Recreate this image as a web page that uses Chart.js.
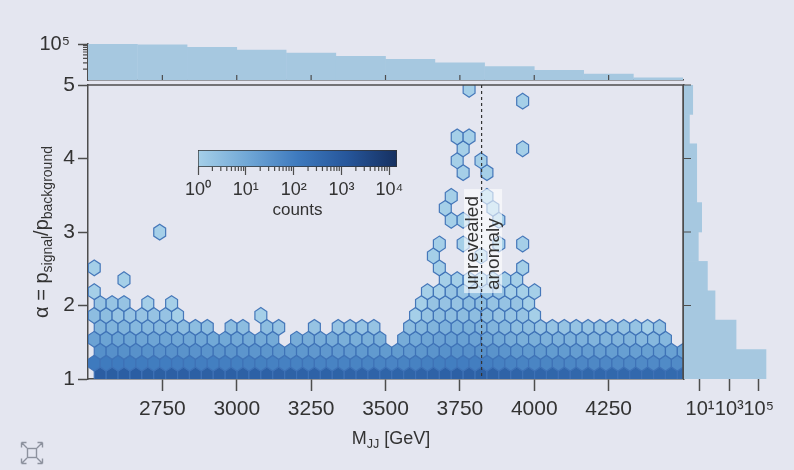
<!DOCTYPE html>
<html>
<head>
<meta charset="utf-8">
<script src="https://cdn.jsdelivr.net/npm/chart.js@4.4.0/dist/chart.umd.min.js"></script>
<style>
  html, body { margin: 0; padding: 0; background: #e4e6f0; }
  #wrap { position: relative; width: 794px; height: 470px; overflow: hidden;
          font-family: "Liberation Sans", Arial, sans-serif; color: #333; }
  #wrap canvas { position: absolute; }
  .label { position: absolute; white-space: nowrap; line-height: 1; }
  .label sub { font-size: 0.7em; vertical-align: -0.32em; line-height: 0; }
  #yTitle { left: 41px; top: 232px; font-size: 20px; transform: translate(-50%, -50%) rotate(-90deg); }
  #xTitle { left: 391px; top: 438px; font-size: 18px; transform: translate(-50%, -50%); }
  #expandIcon { position: absolute; left: 19px; top: 440px; }
</style>
</head>
<body>
<div id="wrap">
  <canvas id="mainChart" width="794" height="470" style="left:0;top:0"></canvas>
  <canvas id="topHist" width="794" height="100" style="left:0;top:0"></canvas>
  <canvas id="rightHist" width="194" height="470" style="left:600px;top:0"></canvas>
  <canvas id="colorBar" width="260" height="91" style="left:170px;top:130px"></canvas>
  <div id="yTitle" class="label">α = p<sub>signal</sub>/p<sub>background</sub></div>
  <div id="xTitle" class="label">M<sub>JJ</sub> [GeV]</div>
  <svg id="expandIcon" width="26" height="26" viewBox="0 0 26 26" fill="none" stroke="#8d929e" stroke-width="1.4">
    <rect x="8.5" y="8.5" width="9" height="9"/>
    <path d="M8 8 L2.5 2.5 M2.5 2.5 h5 M2.5 2.5 v5 M18 8 L23.5 2.5 M23.5 2.5 h-5 M23.5 2.5 v5 M8 18 L2.5 23.5 M2.5 23.5 h5 M2.5 23.5 v-5 M18 18 L23.5 23.5 M23.5 23.5 h-5 M23.5 23.5 v-5"/>
  </svg>
</div>
<script>
// Global font settings:
Chart.defaults.font.family = '"Liberation Sans", Arial, sans-serif';
Chart.defaults.color = '#333';
Chart.defaults.animation = false;

const COLORS = {
  AXIS: '#4d4d4d',
  HIST: 'rgb(166, 200, 224)',
  HEX_EDGE: 'rgba(62, 114, 182, 0.95)',
  BOX: 'rgba(255, 255, 255, 0.6)'
};
// light-to-dark blue map used for the hex counts and the colour bar
const CMAP = [[165, 207, 232], [112, 167, 214], [62, 122, 190], [38, 86, 155], [22, 48, 96]];

// ---- data ----
const mjjTicks = [2750, 3000, 3250, 3500, 3750, 4000, 4250];
const alphaTicks = [1, 2, 3, 4, 5];

// top marginal: events per M_JJ bin
const mjjBinCentres = [2583, 2750, 2917, 3083, 3250, 3417, 3583, 3750, 3917, 4083, 4250, 4417];
const mjjBinCounts = [100000, 94400, 80800, 68000, 56200, 45400, 37600, 29900, 23700, 18500, 14700, 11400];

// right marginal: events per alpha bin
const alphaBinCentres = [1.2, 1.6, 2.0, 2.4, 2.8, 3.2, 3.6, 4.0, 4.4, 4.8];
const alphaBinCounts = [316000, 2880, 106, 32, 7.7, 13, 6.0, 6.0, 1.9, 3.2];

// hexbin lattice (odd rows start at hexX0, even rows half a cell later)
const hexX0 = 2521;
const hexDX = 40;
const hexY0 = 1.054;
const hexDY = 0.162;

// dense rows, one count per column (0 = empty cell)
const hexRow0 = [820,800,790,770,750,740,730,710,700,690,670,660,650,640,630,620,610,600,590,580,570,560,550,540,530,520,530,550,590,630,660,670,650,610,570,520,490,480,465,450,440,430,420,410,400,390,380,370,360,350];
const hexRow1 = [120,116,114,110,107,105,103,100,98,96,93,91,89,87,85,84,82,80,78,76,75,73,72,71,70,69,72,78,86,94,99,101,96,90,83,76,70,67,65,63,61,59,57,56,54,53,52,51,50,49];
const hexRow2 = [38,37,36,35,34,33,33,32,31,30,29,29,28,27,27,26,25,25,24,24,23,23,22,22,21,21,23,26,30,34,36,37,35,32,28,25,22,21,20,20,19,19,18,18,17,17,16,16,15,15];
const hexRow3 = [14,13,13,13,12,12,12,11,11,11,10,10,10,9,9,9,0,8,8,8,8,7,7,7,7,0,8,10,12,14,15,15,14,12,10,8,7,7,6,6,6,6,5,5,5,5,4,4,4,0];
const hexRow4 = [5,5,5,4,4,4,4,3,3,3,0,3,3,0,3,2,0,0,2,0,2,2,2,2,0,0,3,4,5,6,7,7,6,5,4,3,3,2,2,2,2,2,2,2,2,2,1,2,0,0];

// sparse cells higher up: [row, column, count]
const hexSparse = [
  [5,0,3],[5,1,3],[5,2,2],[5,3,2],[5,4,2],[5,5,2],[5,6,2],[5,7,1],[5,14,1],
  [5,27,1],[5,28,2],[5,29,3],[5,30,3],[5,31,3],[5,32,3],[5,33,3],[5,34,2],[5,35,2],[5,36,2],[5,37,1],
  [6,0,2],[6,1,2],[6,2,2],[6,4,1],[6,6,1],
  [6,27,1],[6,28,2],[6,29,2],[6,30,2],[6,31,3],[6,32,3],[6,33,2],[6,34,2],[6,35,2],[6,36,1],
  [7,0,1],[7,28,1],[7,29,1],[7,30,2],[7,31,2],[7,32,2],[7,33,2],[7,34,2],[7,35,1],[7,36,1],[7,37,1],
  [8,2,1],[8,29,1],[8,30,1],[8,31,1],[8,32,1],[8,33,1],[8,34,1],[8,35,1],
  [9,0,1],[9,29,1],[9,36,1],
  [10,28,1],[10,32,1],
  [11,29,1],[11,31,1],[11,34,1],[11,36,1],
  [12,5,1],
  [13,30,1],[13,31,1],[13,34,1],
  [14,29,1],[14,33,1],
  [15,30,1],[15,33,1],
  [17,31,1],[17,33,1],
  [18,30,1],[18,32,1],
  [19,31,1],[19,36,1],
  [20,30,1],[20,31,1],
  [23,36,1],
  [24,31,1]
];

const countMax = 14500;          // top of the colour bar
const anomalyMjj = 3823;         // dashed marker
const anomalyLabelAlpha = 2.21;  // where the rotated label starts
const anomalyLines = ['unrevealed', 'anomaly'];

// ---- helpers ----
const SUP = { 0: '⁰', 1: '¹', 2: '²', 3: '³', 4: '⁴', 5: '⁵' };
function powerLabel(value) {
  return '10' + SUP[Math.round(Math.log10(value))];
}

function countColor(n) {
  const t = Math.min(Math.max(Math.log10(n) / Math.log10(countMax), 0), 1);
  const f = t * (CMAP.length - 1);
  const i = Math.min(Math.floor(f), CMAP.length - 2);
  const u = f - i;
  const c = CMAP[i].map((v, k) => Math.round(v + (CMAP[i + 1][k] - v) * u));
  return `rgb(${c[0]}, ${c[1]}, ${c[2]})`;
}

function hexCell(row, col, count) {
  const start = row % 2 ? hexX0 : hexX0 + hexDX / 2;
  return { x: start + col * hexDX, y: hexY0 + row * hexDY, count: count };
}

const hexCells = [];
[hexRow0, hexRow1, hexRow2, hexRow3, hexRow4].forEach((counts, row) => {
  counts.forEach((n, col) => { if (n > 0) hexCells.push(hexCell(row, col, n)); });
});
hexSparse.forEach(([row, col, n]) => hexCells.push(hexCell(row, col, n)));

// short tick marks (minor / inward) placed through the chart's own scales
const tickMarks = {
  id: 'tickMarks',
  afterDraw(chart, args, opts) {
    const { ctx, chartArea } = chart;
    for (const set of opts.sets || []) {
      const scale = chart.scales[set.scale];
      ctx.save();
      ctx.strokeStyle = COLORS.AXIS;
      ctx.lineWidth = 1.2;
      ctx.beginPath();
      for (const v of set.values) {
        const p = scale.getPixelForValue(v);
        if (set.side === 'up')    { ctx.moveTo(p, chartArea.bottom); ctx.lineTo(p, chartArea.bottom - set.length); }
        if (set.side === 'down')  { ctx.moveTo(p, chartArea.bottom); ctx.lineTo(p, chartArea.bottom + set.length); }
        if (set.side === 'left')  { ctx.moveTo(chartArea.left, p); ctx.lineTo(chartArea.left - set.length, p); }
        if (set.side === 'right') { ctx.moveTo(chartArea.left, p); ctx.lineTo(chartArea.left + set.length, p); }
      }
      ctx.stroke();
      ctx.restore();
    }
  }
};

// hexagons drawn at the positions the scatter controller computed
const hexPlugin = {
  id: 'hexCells',
  beforeDatasetsDraw(chart) {
    const { ctx, chartArea, scales: { x, y } } = chart;
    const meta = chart.getDatasetMeta(0);
    const cells = chart.data.datasets[0].data;
    ctx.save();
    ctx.beginPath();
    ctx.rect(chartArea.left, chartArea.top, chartArea.width, chartArea.height);
    ctx.clip();
    meta.data.forEach((pt, i) => {
      const c = cells[i];
      const hw = Math.abs(x.getPixelForValue(c.x + hexDX / 2) - pt.x);
      const tip = Math.abs(y.getPixelForValue(c.y + hexDY * 2 / 3) - pt.y);
      const side = tip / 2;
      ctx.beginPath();
      ctx.moveTo(pt.x, pt.y - tip);
      ctx.lineTo(pt.x + hw, pt.y - side);
      ctx.lineTo(pt.x + hw, pt.y + side);
      ctx.lineTo(pt.x, pt.y + tip);
      ctx.lineTo(pt.x - hw, pt.y + side);
      ctx.lineTo(pt.x - hw, pt.y - side);
      ctx.closePath();
      ctx.fillStyle = countColor(c.count);
      ctx.fill();
      ctx.strokeStyle = COLORS.HEX_EDGE;
      ctx.lineWidth = 1.2;
      ctx.stroke();
    });
    ctx.restore();
  }
};

// top/right frame lines, the dashed marker and its label
const framePlugin = {
  id: 'frameAndMarker',
  afterDatasetsDraw(chart) {
    const { ctx, chartArea: a, scales: { x, y } } = chart;
    ctx.save();
    ctx.strokeStyle = COLORS.AXIS;
    ctx.lineWidth = 1.5;
    ctx.beginPath();
    ctx.moveTo(a.left, a.top); ctx.lineTo(a.right, a.top); ctx.lineTo(a.right, a.bottom);
    ctx.stroke();

    const xp = x.getPixelForValue(anomalyMjj);
    const yp = y.getPixelForValue(anomalyLabelAlpha);
    ctx.translate(xp + 1.5, yp);
    ctx.rotate(-Math.PI / 2);
    ctx.fillStyle = COLORS.BOX;
    ctx.fillRect(-3, -19, 104, 38);
    ctx.restore();

    ctx.save();
    ctx.strokeStyle = '#333';
    ctx.lineWidth = 1.2;
    ctx.setLineDash([3, 3]);
    ctx.beginPath();
    ctx.moveTo(xp, a.top);
    ctx.lineTo(xp, a.bottom);
    ctx.stroke();
    ctx.restore();

    ctx.save();
    ctx.translate(xp + 1.5, yp);
    ctx.rotate(-Math.PI / 2);
    ctx.fillStyle = '#333';
    ctx.font = '19px "Liberation Sans", Arial, sans-serif';
    ctx.textAlign = 'left';
    ctx.textBaseline = 'middle';
    ctx.fillText(anomalyLines[0], 0, -10.5);
    ctx.fillText(anomalyLines[1], 0, 10.5);
    ctx.restore();
  }
};

const axisBorder = { display: true, color: COLORS.AXIS, width: 1.5 };

// ---- main hexbin panel ----
new Chart(document.getElementById('mainChart'), {
  type: 'scatter',
  data: { datasets: [{ data: hexCells, pointRadius: 0, pointHoverRadius: 0 }] },
  options: {
    responsive: false,
    events: [],
    layout: { padding: { top: 85, right: 111, left: 0, bottom: 0 } },
    plugins: { legend: { display: false }, tooltip: { enabled: false } },
    scales: {
      x: {
        type: 'linear', min: 2500, max: 4500,
        afterBuildTicks: s => { s.ticks = mjjTicks.map(v => ({ value: v })); },
        afterFit: s => { s.height = 91; },
        grid: { drawOnChartArea: false, tickLength: 12, tickColor: COLORS.AXIS, tickWidth: 1.5 },
        border: axisBorder,
        ticks: { font: { size: 21 }, color: '#333', padding: 6, autoSkip: false, maxRotation: 0, minRotation: 0,
                 callback: v => String(v) }
      },
      y: {
        type: 'linear', min: 1, max: 5,
        afterBuildTicks: s => { s.ticks = alphaTicks.map(v => ({ value: v })); },
        afterFit: s => { s.width = 88; },
        grid: { drawOnChartArea: false, tickLength: 10, tickColor: COLORS.AXIS, tickWidth: 1.5 },
        border: axisBorder,
        ticks: { font: { size: 21 }, color: '#333', padding: 3, callback: v => String(v) }
      }
    }
  },
  plugins: [hexPlugin, framePlugin]
});

// ---- top marginal histogram ----
new Chart(document.getElementById('topHist'), {
  type: 'bar',
  data: {
    datasets: [{
      data: mjjBinCentres.map((x, i) => ({ x: x, y: mjjBinCounts[i] })),
      backgroundColor: COLORS.HIST,
      borderWidth: 0,
      barPercentage: 1,
      categoryPercentage: 1
    }]
  },
  options: {
    responsive: false,
    events: [],
    layout: { padding: { top: 44, right: 111, left: 0, bottom: 0 } },
    plugins: {
      legend: { display: false }, tooltip: { enabled: false },
      tickMarks: { sets: [
        { scale: 'x', side: 'up', length: 5, values: mjjTicks },
        { scale: 'y', side: 'left', length: 5, values: [20000, 30000, 40000, 50000, 60000, 70000, 80000, 90000] }
      ] }
    },
    scales: {
      x: {
        type: 'linear', min: 2500, max: 4500, offset: false,
        afterFit: s => { s.height = 15; },
        grid: { display: false, offset: false },
        ticks: { display: false },
        border: axisBorder
      },
      y: {
        type: 'logarithmic', min: 10000, max: 100000,
        afterBuildTicks: s => { s.ticks = [{ value: 100000 }]; },
        afterFit: s => { s.width = 88; },
        grid: { drawOnChartArea: false, tickLength: 10, tickColor: COLORS.AXIS, tickWidth: 1.5 },
        border: axisBorder,
        ticks: { font: { size: 20 }, color: '#333', padding: 8, callback: v => powerLabel(v) }
      }
    }
  },
  plugins: [tickMarks]
});

// ---- right marginal histogram ----
new Chart(document.getElementById('rightHist'), {
  type: 'bar',
  data: {
    datasets: [{
      data: alphaBinCentres.map((y, i) => ({ x: alphaBinCounts[i], y: y })),
      backgroundColor: COLORS.HIST,
      borderWidth: 0,
      barPercentage: 1,
      categoryPercentage: 1
    }]
  },
  options: {
    indexAxis: 'y',
    responsive: false,
    events: [],
    layout: { padding: { top: 85, right: 9, left: 0, bottom: 0 } },
    plugins: {
      legend: { display: false }, tooltip: { enabled: false },
      tickMarks: { sets: [{ scale: 'y', side: 'right', length: 7, values: [2, 3, 4, 5] }] }
    },
    scales: {
      x: {
        type: 'logarithmic', min: 0.815, max: 6.25e6, position: 'bottom',
        afterBuildTicks: s => { s.ticks = [10, 1000, 100000].map(v => ({ value: v })); },
        afterFit: s => { s.height = 91; },
        grid: { drawOnChartArea: false, tickLength: 12, tickColor: COLORS.AXIS, tickWidth: 1.5 },
        border: { display: false },
        ticks: { font: { size: 20 }, color: '#333', padding: 6, autoSkip: false, maxRotation: 0, minRotation: 0, callback: v => powerLabel(v) }
      },
      y: {
        type: 'linear', min: 1, max: 5, offset: false,
        afterFit: s => { s.width = 84; },
        grid: { display: false, offset: false },
        ticks: { display: false },
        border: axisBorder
      }
    }
  },
  plugins: [tickMarks]
});

// ---- colour bar ----
new Chart(document.getElementById('colorBar'), {
  type: 'bar',
  data: {
    labels: [''],
    datasets: [{
      data: [countMax],
      backgroundColor: (context) => {
        const { ctx, chartArea } = context.chart;
        if (!chartArea) return;
        const g = ctx.createLinearGradient(chartArea.left, 0, chartArea.right, 0);
        CMAP.forEach((c, i) => g.addColorStop(i / (CMAP.length - 1), `rgb(${c[0]}, ${c[1]}, ${c[2]})`));
        return g;
      },
      borderColor: '#333',
      borderWidth: 1,
      borderSkipped: false,
      barPercentage: 1,
      categoryPercentage: 1
    }]
  },
  options: {
    indexAxis: 'y',
    responsive: false,
    events: [],
    layout: { padding: { top: 20, right: 33, left: 28, bottom: 0 } },
    plugins: {
      legend: { display: false }, tooltip: { enabled: false },
      tickMarks: { sets: [{ scale: 'x', side: 'down', length: 4, values: [
        2,3,4,5,6,7,8,9, 20,30,40,50,60,70,80,90, 200,300,400,500,600,700,800,900,
        2000,3000,4000,5000,6000,7000,8000,9000 ] }] }
    },
    scales: {
      x: {
        type: 'logarithmic', min: 1, max: countMax, position: 'bottom',
        afterBuildTicks: s => { s.ticks = [1, 10, 100, 1000, 10000].map(v => ({ value: v })); },
        afterFit: s => { s.height = 54; },
        grid: { drawOnChartArea: false, tickLength: 8, tickColor: COLORS.AXIS, tickWidth: 1.2 },
        border: { display: false },
        ticks: { font: { size: 18 }, color: '#333', padding: 4, autoSkip: false, maxRotation: 0, callback: v => powerLabel(v) },
        title: { display: true, text: 'counts', font: { size: 17 }, color: '#333', padding: { top: 0, bottom: 0 } }
      },
      y: { display: false }
    }
  },
  plugins: [tickMarks]
});
</script>
</body>
</html>
